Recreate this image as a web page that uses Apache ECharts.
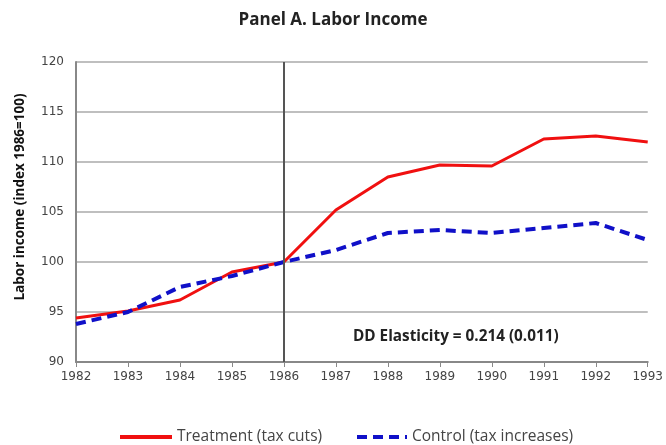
<!DOCTYPE html>
<html><head><meta charset="utf-8">
<script src="https://cdn.jsdelivr.net/npm/echarts@6/dist/echarts.min.js"></script>
<style>html,body{margin:0;padding:0;background:#fff}#c{width:666px;height:445px}</style>
</head><body><div id="c"></div>
<script>
var years = ['1982','1983','1984','1985','1986','1987','1988','1989','1990','1991','1992','1993'];
var treatment = [94.4, 95.1, 96.2, 99.0, 100, 105.2, 108.5, 109.7, 109.6, 112.3, 112.6, 112.0];
var control = [93.8, 95.0, 97.5, 98.6, 100, 101.2, 102.9, 103.2, 102.9, 103.4, 103.9, 102.2];
var yTicks = {min: 90, max: 120, interval: 5};

var chart = echarts.init(document.getElementById('c'));
var legendText = {fontFamily: 'Open Sans', fontSize: 15.5, color: '#444'};
chart.setOption({
  animation: false,
  title: {text: 'Panel A. Labor Income', left: 'center', top: 7,
    textStyle: {fontFamily: 'Open Sans', fontWeight: 'bold', fontSize: 17, color: '#222'}},
  grid: {left: 76, right: 15, top: 62, bottom: 83},
  legend: [
    {top: 429, left: 118, padding: 0, itemWidth: 52, itemHeight: 14, textStyle: legendText,
      itemStyle: {opacity: 0}, lineStyle: {width: 4}, data: [{name: 'Treatment (tax cuts)'}]},
    {top: 429, left: 355, padding: 0, itemWidth: 50, itemHeight: 14, textStyle: legendText,
      itemStyle: {opacity: 0}, lineStyle: {width: 4}, data: [{name: 'Control (tax increases)'}]}
  ],
  xAxis: {type: 'category', data: years, boundaryGap: false,
    axisLine: {lineStyle: {color: '#888', width: 2}},
    axisTick: {show: true, length: 5, lineStyle: {color: '#888'}},
    axisLabel: {fontFamily: 'DejaVu Sans', fontSize: 12, color: '#444', margin: 9},
    splitLine: {show: false}},
  yAxis: {type: 'value', min: yTicks.min, max: yTicks.max, interval: yTicks.interval,
    axisLine: {show: true, lineStyle: {color: '#888', width: 2}},
    axisTick: {show: false},
    axisLabel: {fontFamily: 'DejaVu Sans', fontSize: 12, color: '#444', margin: 12},
    splitLine: {lineStyle: {color: '#aaa', width: 1.5}}},
  series: [
    {name: 'Treatment (tax cuts)', type: 'line', data: treatment, symbol: 'none',
      lineStyle: {color: '#f01010', width: 3}, itemStyle: {color: '#f01010'}, z: 3,
      markLine: {silent: true, symbol: 'none', label: {show: false},
        lineStyle: {color: '#555', width: 2, type: 'solid'},
        data: [{xAxis: '1986'}]}},
    {name: 'Control (tax increases)', type: 'line', data: control, symbol: 'none',
      lineStyle: {color: '#1010c8', width: 4, type: [10, 6]}, itemStyle: {color: '#1010c8'}, z: 4}
  ],
  graphic: [
    {type: 'text', left: 353, top: 329,
      style: {text: 'DD Elasticity = 0.214 (0.011)', fontFamily: 'Open Sans', fontWeight: 'bold', fontSize: 15.3, fill: '#222'}},
    {type: 'text', x: 20, y: 197, rotation: Math.PI / 2,
      style: {text: 'Labor income (index 1986=100)', fontFamily: 'Open Sans', fontWeight: 'bold', fontSize: 13.5, fill: '#111',
        align: 'center', verticalAlign: 'middle'}}
  ]
});
</script></body></html>
